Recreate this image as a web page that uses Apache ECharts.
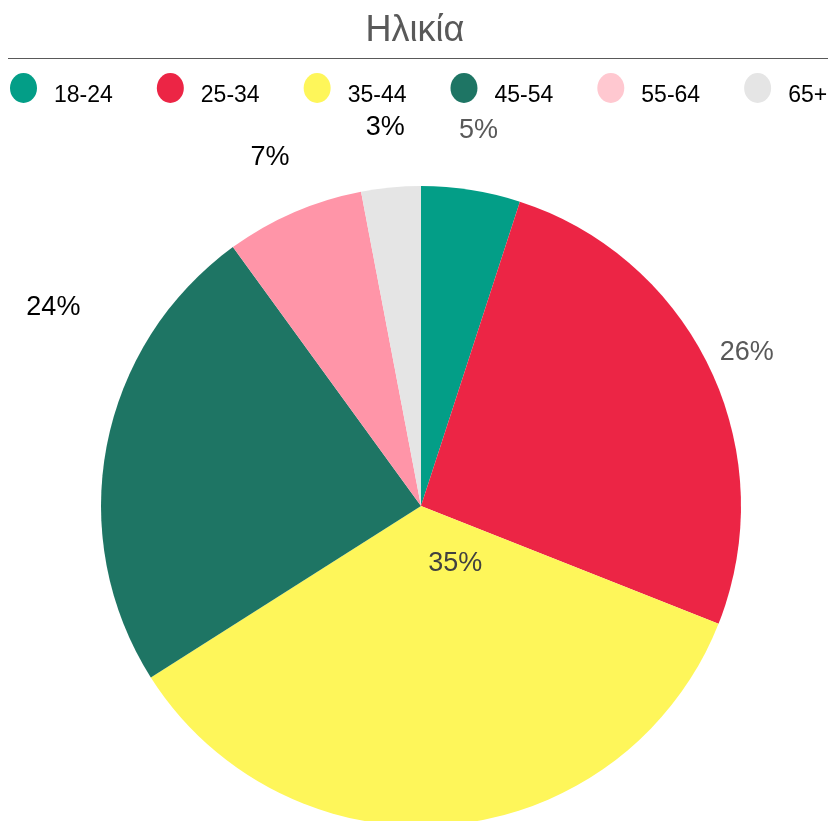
<!DOCTYPE html>
<html>
<head>
<meta charset="utf-8">
<script src="https://cdn.jsdelivr.net/npm/echarts@6/dist/echarts.min.js"></script>
<style>
  html, body { margin: 0; padding: 0; background: #fff; }
  #age_pie { width: 830px; height: 821px; }
</style>
</head>
<body>
<div id="age_pie"></div>
<script>
// Ηλικία - pie
var ageGroups = ['18-24', '25-34', '35-44', '45-54', '55-64', '65+'];
var agePercent = [5, 26, 35, 24, 7, 3];

var sliceColors = ['#039E87', '#EC2545', '#FEF65A', '#1E7564', '#FF95A8', '#E5E5E5'];
var legendColors = ['#039E87', '#EC2545', '#FEF65A', '#1E7564', '#FFC8D0', '#E5E5E5'];
var labelColors = ['#595959', '#595959', '#404040', '#000000', '#000000', '#000000'];
// label line length (outside) per slice, 35-44 sits inside
var labelLen = [60, 40, 0, 40, 60, 60];
var labelNudge = [[-2, 0], [0, 0], [19, -105], [-14, -131], [0, 0], [0, 0]];

var dom = document.getElementById('age_pie');
var myChart = echarts.init(dom);

var pieData = ageGroups.map(function (name, i) {
    return {
        name: name,
        value: agePercent[i],
        itemStyle: { color: sliceColors[i] },
        label: {
            position: labelLen[i] > 0 ? 'outside' : 'inside',
            color: labelColors[i]
        },
        labelLine: { show: false, length: labelLen[i], length2: 0 }
    };
});

var legendData = ageGroups.map(function (name, i) {
    return { name: name, itemStyle: { color: legendColors[i] } };
});

var option = {
    animation: false,
    title: {
        text: 'Ηλικία',
        left: 'center',
        top: 8,
        textStyle: {
            fontFamily: 'Liberation Sans',
            fontSize: 36,
            fontWeight: 'normal',
            color: '#595959'
        }
    },
    graphic: [{
        type: 'line',
        shape: { x1: 8, y1: 58.5, x2: 828, y2: 58.5 },
        style: { stroke: '#595959', lineWidth: 1 }
    }],
    legend: {
        data: legendData,
        left: 10,
        top: 73,
        width: 820,
        padding: 0,
        orient: 'horizontal',
        icon: 'path://M10,0A10,10,0,1,1,10,20A10,10,0,1,1,10,0Z',
        symbolKeepAspect: false,
        itemWidth: 27,
        itemHeight: 30,
        itemGap: 44,
        formatter: '{t|{name}}',
        textStyle: {
            rich: {
                t: {
                    fontFamily: 'Liberation Sans',
                    fontSize: 23,
                    color: '#000',
                    padding: [15, 0, 0, 12]
                }
            }
        }
    },
    series: [{
        name: 'Ηλικία',
        type: 'pie',
        center: [421, 506],
        radius: 320,
        startAngle: 90,
        clockwise: true,
        avoidLabelOverlap: false,
        label: {
            show: true,
            formatter: '{c}%',
            fontFamily: 'Liberation Sans',
            fontSize: 27,
            distanceToLabelLine: 0
        },
        labelLayout: function (params) {
            var n = labelNudge[params.dataIndex];
            return { align: 'center', verticalAlign: 'middle', dx: n[0], dy: n[1] };
        },
        emphasis: { disabled: true },
        data: pieData
    }]
};

if (option && typeof option === 'object') {
    myChart.setOption(option);
}
</script>
</body>
</html>
